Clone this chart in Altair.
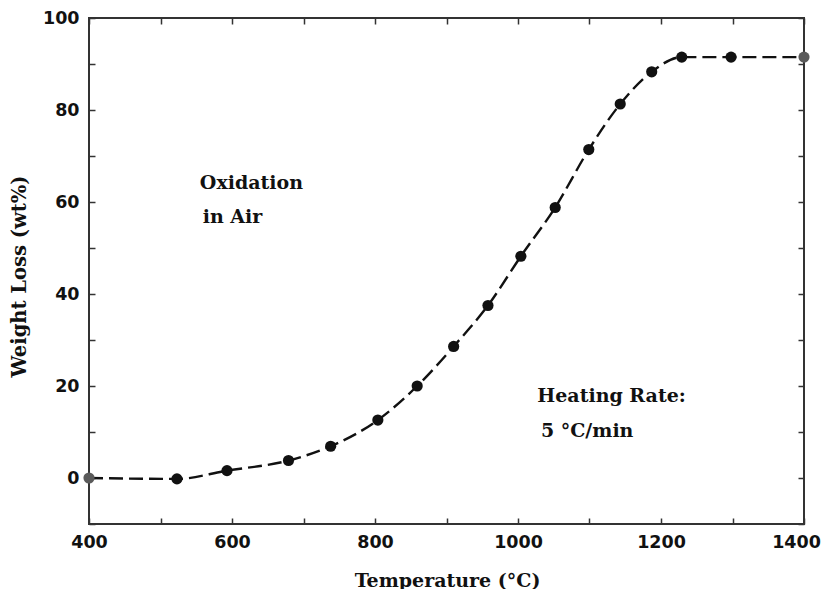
import altair as alt
import pandas as pd

temperature = [400, 523, 593, 679, 738, 804, 859, 910, 958, 1004, 1052, 1099, 1143, 1187, 1229, 1298, 1400]
weight_loss = [0.0, -0.2, 1.6, 3.8, 6.9, 12.6, 20.0, 28.6, 37.5, 48.2, 58.8, 71.4, 81.3, 88.3, 91.5, 91.5, 91.5]
point_color = ["#5a5a5a"] + ["#111111"] * 15 + ["#5a5a5a"]

note_text = ["Oxidation", "in Air", "Heating Rate:", "5 °C/min"]
note_x = [555, 559, 1027, 1032]
note_y = [64.2, 56.8, 17.8, 10.2]

x_ticks = list(range(400, 1401, 100))
y_ticks = list(range(-10, 101, 10))

df = pd.DataFrame({"T": temperature, "W": weight_loss, "c": point_color})
notes = pd.DataFrame({"t": note_text, "x": note_x, "y": note_y})

xs = alt.Scale(domain=[400, 1400], nice=False, zero=False)
ys = alt.Scale(domain=[-10, 100], nice=False, zero=False)

label_font = "DejaVu Sans"
serif = "DejaVu Serif"

x_bottom = alt.Axis(values=x_ticks, format="d",
                    labelExpr="datum.value % 200 == 0 ? datum.label : ''",
                    offset=-6, tickSize=6, domain=False, grid=False, labelFlush=False,
                    labelOverlap=False,
                    labelOffset={"condition": {"test": "datum.value == 1400", "value": -8}, "value": 0},
                    labelPadding=9, labelFont=label_font, labelFontSize=17.5,
                    labelFontWeight="bold", labelColor="#111", tickColor="#333",
                    tickWidth=1.5, title="Temperature (°C)", titleFont=serif,
                    titleFontSize=19, titleFontWeight="bold", titleColor="#111",
                    titleX=358, titleY=62, titleBaseline="middle", titleAlign="center")
y_left = alt.Axis(values=y_ticks, format="d",
                  labelExpr="datum.value % 20 == 0 ? datum.label : ''",
                  offset=-6, tickSize=6, domain=False, grid=False, labelFlush=False,
                  labelOverlap=False,
                  labelPadding=10, labelFont=label_font, labelFontSize=17.5,
                  labelFontWeight="bold", labelColor="#111", tickColor="#333",
                  tickWidth=1.5, title="Weight Loss (wt%)", titleFont=serif,
                  titleFontSize=19.5, titleFontWeight="bold", titleColor="#111",
                  titleAngle=-90, titleX=-76, titleY=258, titleBaseline="middle",
                  titleAlign="center")
x_top = alt.Axis(orient="top", values=x_ticks, labels=False, title=None,
                 offset=-6, tickSize=6, domain=False, grid=False,
                 tickColor="#333", tickWidth=1.5)
y_right = alt.Axis(orient="right", values=y_ticks, labels=False, title=None,
                   offset=-6, tickSize=6, domain=False, grid=False,
                   tickColor="#333", tickWidth=1.5)

line = alt.Chart(df).mark_line(color="#111", strokeWidth=2.4, strokeDash=[14, 6],
                               interpolate="monotone").encode(
    x=alt.X("T:Q", scale=xs, axis=x_bottom),
    y=alt.Y("W:Q", scale=ys, axis=y_left),
)

points = alt.Chart(df).mark_circle(size=125, opacity=1).encode(
    x=alt.X("T:Q", scale=xs, axis=x_top),
    y=alt.Y("W:Q", scale=ys, axis=y_right),
    color=alt.Color("c:N", scale=None),
)

text = alt.Chart(notes).mark_text(align="left", baseline="middle", font=serif,
                                  fontSize=19, fontWeight="bold", color="#111").encode(
    x=alt.X("x:Q", scale=xs, axis=None),
    y=alt.Y("y:Q", scale=ys, axis=None),
    text="t:N",
)

chart = alt.layer(line, points, text).resolve_axis(
    x="independent", y="independent"
).properties(
    width=715, height=506,
    autosize=alt.AutoSizeParams(type="none"),
    padding={"left": 81, "top": 10, "right": 19, "bottom": 65},
    background="white",
).configure_view(stroke="#333", strokeWidth=2)

chart.save("out.html", embed_options={"renderer": "svg", "actions": False})
